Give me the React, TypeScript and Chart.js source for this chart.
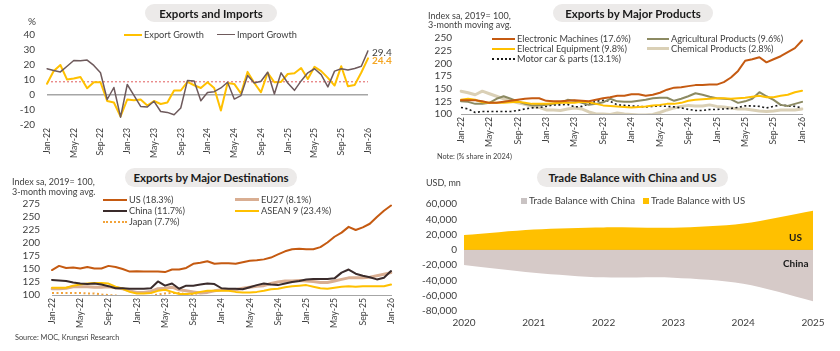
import React, { useEffect, useRef } from 'react';
import { Chart, registerables } from 'chart.js';
Chart.register(...registerables);

const FONT = 'Lato, "Open Sans", sans-serif';
const TXT = '#404040';

// ---------- DATA ----------
const MONTH_NAMES = ['Jan', 'Feb', 'Mar', 'Apr', 'May', 'Jun', 'Jul', 'Aug', 'Sep', 'Oct', 'Nov', 'Dec'];
const YEARS_SHORT = ['22', '23', '24', '25', '26'];
const MONTHS: string[] = [];
YEARS_SHORT.forEach((y) => MONTH_NAMES.forEach((m) => { if (MONTHS.length < 49) MONTHS.push(`${m}-${y}`); }));

const exportGrowth = [7.5, 16, 20, 10.3, 11, 12, 4.5, 8.5, 8.5, -4, -5, -14.3, -3, -3.5, -3, -7, -4, -6, -5, 3, 3, 8.7, 6.5, 4.7, 8.5, 4.7, -10.3, 8, 7.4, 1, 15.4, 8, 1.8, 14.8, 8.5, 8.7, 14, 14.5, 18, 10.7, 18.8, 15.9, 11.4, 6.3, 19.2, 5.8, 6.7, 15, 24.4];
const importGrowth = [17.5, 16.3, 15.4, 19.2, 23, 22.8, 23.3, 19.7, 14.8, -3, 5, -14.8, 7, -0.2, -7.6, -8, -4.2, -11, -11.6, -13.2, -8.7, 9.6, 9.4, -3.8, 1.6, 2.2, 4.7, 8.5, -2.7, -0.4, 13, 8, 9.2, 15.2, 0.7, 14.8, 8, 3.1, 9.4, 14.8, 17.5, 13.6, 5.4, 15.9, 17.5, 16.6, 17.7, 19.2, 29.4];
const avgGrowth = 8.8;

const electronicMachines = [127, 127, 127, 125, 122, 122, 124, 126, 128, 130, 131, 131, 126, 125, 125, 126, 127, 126, 125, 128, 131, 133, 136, 136, 139, 139, 136, 138, 142, 148, 152, 153, 155, 157, 157, 158, 158, 163, 172, 185, 205, 208, 212, 202, 208, 214, 222, 230, 245];
const agriculturalProducts = [125, 124, 120, 120, 122, 130, 135, 130, 125, 120, 117, 118, 118, 120, 122, 128, 126, 122, 118, 120, 123, 130, 125, 124, 124, 126, 128, 131, 132, 132, 126, 130, 135, 141, 138, 134, 131, 130, 129, 122, 125, 130, 143, 135, 128, 118, 116, 120, 124];
const electricalEquipment = [128, 130, 128, 123, 122, 122, 122, 123, 124, 122, 120, 120, 120, 121, 122, 122, 122, 124, 123, 120, 117, 116, 115, 114, 113, 114, 115, 117, 118, 120, 120, 122, 126, 128, 129, 130, 131, 131, 130, 131, 132, 134, 136, 133, 133, 136, 138, 143, 146];
const chemicalProducts = [145, 142, 138, 145, 140, 135, 130, 126, 122, 119, 115, 113, 108, 108, 107, 110, 112, 110, 104, 100, 100, 99, 102, 100, 99, 98, 98, 99, 103, 108, 112, 115, 117, 116, 116, 118, 115, 114, 112, 110, 110, 108, 106, 105, 106, 108, 108, 108, 110];
const motorCarParts = [113, 110, 103, 105, 105, 105, 105, 105, 107, 110, 112, 113, 115, 118, 118, 119, 114, 115, 120, 125, 127, 125, 118, 117, 116, 115, 114, 115, 116, 115, 114, 112, 109, 107, 107, 109, 109, 110, 111, 113, 116, 116, 115, 112, 115, 118, 116, 115, 112];

const destUS = [148, 156, 152, 153, 151, 154, 151, 151, 156, 154, 150, 145, 145.5, 145, 145, 145, 144, 149, 149, 152, 160, 162, 165, 160, 161, 161, 160, 163, 166, 167, 168.5, 172, 178, 184, 188, 189, 188, 188, 192, 201, 212, 220, 231, 225, 230, 237, 250, 262, 272];
const destChina = [129, 128, 127, 124, 122, 121, 122, 120, 117, 113, 113, 112, 112, 112, 113, 126, 118, 122, 112, 118, 118, 120, 122, 121, 113, 112, 112, 111, 115, 119, 122, 120, 119, 122, 125, 127, 130, 131, 131, 131, 132, 143, 149, 141, 137, 134, 130, 133, 146];
const destEU27 = [112, 112, 113, 116, 116, 116, 115, 115, 116, 114, 112, 108, 105, 105, 107, 112, 113, 115, 110, 108, 106, 104, 105, 108, 110, 110, 110, 113, 115, 117, 118, 122, 125, 127, 127, 128, 127, 126, 124, 124, 127, 130, 133, 133, 133, 134, 137, 140, 143];
const destASEAN9 = [114, 114, 114, 118, 120, 122, 123, 123, 122, 116, 112, 106, 103, 103, 104, 108, 110, 106, 102, 102, 103, 106, 108, 108, 108, 108, 106, 105, 105, 106, 108, 111, 112, 115, 117, 118, 119, 116, 113, 112, 114, 116, 117, 116, 117, 117, 117, 117, 120];
const destJapan = [104, 104, 104, 104, 104, 103, 103, 101, 100, 99, 97, 96, 96, 97, 98, 101, 103, 104, 104, 101, 100, 98, 97, 96, 95, 95, 94, 94, 94, 95, 95, 96, 96, 96, 96, 95, 95, 94, 94, 94, 95, 95, 95, 94, 94, 94, 94, 94, 95];

const tradeYears = ['2020', '2021', '2022', '2023', '2024', '2025'];
const balanceUS = [19300, 26700, 29400, 29000, 34600, 51300];
const balanceChina = [-19700, -29800, -36000, -36400, -44300, -67100];

// ---------- helpers ----------
type Area = { left: number; right: number; top: number; bottom: number };

function line(label: string, data: number[], color: string, width: number, dash: number[] = []) {
  return {
    label, data, borderColor: color, backgroundColor: color, borderWidth: width,
    pointRadius: 0, borderDash: dash, borderCapStyle: dash.length ? 'butt' : 'round', borderJoinStyle: 'round',
    tension: 0, fill: false,
  };
}

function baseOptions(w: number, h: number, area: Area, y: any, x: any) {
  return {
    responsive: false,
    animation: false,
    events: [],
    layout: { padding: { left: 0, top: area.top, right: w - area.right, bottom: 0 } },
    plugins: { legend: { display: false }, tooltip: { enabled: false }, title: { display: false } },
    scales: {
      x: {
        ...x,
        afterFit: (s: any) => { s.height = h - area.bottom; },
      },
      y: {
        ...y,
        afterFit: (s: any) => { s.width = area.left; },
      },
    },
  };
}

const monthX = (pad: number, border: boolean) => ({
  type: 'category',
  grid: { display: false, drawTicks: false },
  border: { display: border, color: '#a6a6a6', width: 1 },
  ticks: {
    autoSkip: false, maxRotation: 90, minRotation: 90, padding: pad, color: TXT,
    font: { family: FONT, size: 8.7 },
    callback: (_v: any, i: number) => (i % 4 === 0 ? MONTHS[i] : ''),
  },
});

const valueY = (min: number, max: number, step: number, pad: number, zeroColor?: string, fmt?: (v: number) => string) => ({
  min, max,
  grid: {
    display: !!zeroColor, drawTicks: false,
    color: (c: any) => (zeroColor && c.tick && c.tick.value === 0 ? zeroColor : 'rgba(0,0,0,0)'),
    lineWidth: (c: any) => (c.tick && c.tick.value === 0 ? 1.5 : 1),
  },
  border: { display: false },
  ticks: {
    autoSkip: false,
    stepSize: step, padding: pad, color: TXT, font: { family: FONT, size: 10 },
    callback: (v: number) => (fmt ? fmt(v) : String(v)),
  },
});

// ---------- UI bits ----------
const Txt = ({ x, y, children, size = 9.2, weight = 400, color = TXT }: any) => (
  <div style={{ position: 'absolute', left: x, top: y - 7, height: 14, lineHeight: '14px', fontSize: size, fontWeight: weight, color, whiteSpace: 'nowrap', fontFamily: FONT }}>{children}</div>
);

const Pill = ({ x, y, w, h, children }: any) => (
  <div style={{ position: 'absolute', left: x, top: y, width: w, height: h, borderRadius: h / 2, background: '#ECEAE9', display: 'flex', alignItems: 'center', justifyContent: 'center', fontFamily: FONT, fontWeight: 700, fontSize: 11.5, color: '#1a1a1a', whiteSpace: 'nowrap' }}>{children}</div>
);

const LineKey = ({ x, y, w, color, width = 2, style = 'solid', label }: any) => (
  <>
    <div style={{ position: 'absolute', left: x, top: y - width / 2, width: w, height: 0, borderTop: `${width}px ${style} ${color}` }} />
    <Txt x={x + w + 2} y={y}>{label}</Txt>
  </>
);

const BoxKey = ({ x, y, color, label }: any) => (
  <>
    <div style={{ position: 'absolute', left: x, top: y - 3, width: 6, height: 6, background: color }} />
    <Txt x={x + 8} y={y} size={9.6}>{label}</Txt>
  </>
);

export default function App() {
  const r1 = useRef<HTMLCanvasElement>(null);
  const r2 = useRef<HTMLCanvasElement>(null);
  const r3 = useRef<HTMLCanvasElement>(null);
  const r4 = useRef<HTMLCanvasElement>(null);

  useEffect(() => {
    Chart.defaults.font.family = FONT;
    const charts: Chart[] = [];

    // Panel 1: Exports and Imports
    charts.push(new Chart(r1.current!, {
      type: 'line',
      data: {
        labels: MONTHS,
        datasets: [
          line('Import Growth', importGrowth, '#6E5A5C', 1.5),
          line('Export Growth', exportGrowth, '#FFC000', 2),
          line('Average', MONTHS.map(() => avgGrowth), '#E05A5A', 1, [2, 2]),
        ] as any,
      },
      options: baseOptions(420, 170, { left: 47, right: 368, top: 35, bottom: 125 },
        valueY(-20, 40, 10, 12, '#a6a6a6'), monthX(3, false)) as any,
    }));

    // Panel 2: Exports by Major Products
    charts.push(new Chart(r2.current!, {
      type: 'line',
      data: {
        labels: MONTHS,
        datasets: [
          line('Electronic Machines (17.6%)', electronicMachines, '#C55A11', 2),
          line('Electrical Equipment (9.8%)', electricalEquipment, '#FFC000', 2),
          line('Agricultural Products (9.6%)', agriculturalProducts, '#8C8A62', 2),
          line('Motor car & parts (13.1%)', motorCarParts, '#1a1a1a', 1.6, [2, 2.5]),
          line('Chemical Products (2.8%)', chemicalProducts, '#DAD0B6', 3),
        ] as any,
      },
      options: baseOptions(420, 170, { left: 41, right: 382, top: 38, bottom: 114 },
        valueY(100, 250, 25, 9), monthX(3, true)) as any,
    }));

    // Panel 3: Exports by Major Destinations
    charts.push(new Chart(r3.current!, {
      type: 'line',
      data: {
        labels: MONTHS,
        datasets: [
          line('US (18.3%)', destUS, '#C55A11', 2),
          line('China (11.7%)', destChina, '#3A2B2B', 2),
          line('ASEAN 9 (23.4%)', destASEAN9, '#FFC000', 2),
          line('Japan (7.7%)', destJapan, '#F2A33A', 2, [2, 2.5]),
          line('EU27 (8.1%)', destEU27, '#D9AE92', 3),
        ] as any,
      },
      options: baseOptions(420, 165, { left: 52, right: 391, top: 39, bottom: 130 },
        valueY(100, 275, 25, 12), monthX(3, true)) as any,
    }));

    // Panel 4: Trade Balance with China and US
    charts.push(new Chart(r4.current!, {
      type: 'line',
      data: {
        labels: tradeYears,
        datasets: [
          { label: 'Trade Balance with US', data: balanceUS, borderWidth: 0, borderColor: '#FFC000', backgroundColor: '#FFC000', fill: 'origin', pointRadius: 0, tension: 0.3 },
          { label: 'Trade Balance with China', data: balanceChina, borderWidth: 0, borderColor: '#D6CAC8', backgroundColor: '#D6CAC8', fill: 'origin', pointRadius: 0, tension: 0.3 },
        ] as any,
      },
      options: baseOptions(420, 180, { left: 44, right: 393, top: 39, bottom: 146 },
        valueY(-80000, 60000, 20000, 7, '#C9A23A', (v) => v.toLocaleString('en-US')),
        {
          type: 'category',
          grid: { display: false, drawTicks: false },
          border: { display: false },
          ticks: { padding: 6, color: TXT, font: { family: FONT, size: 10 }, maxRotation: 0 },
        }) as any,
    }));

    return () => charts.forEach((c) => c.destroy());
  }, []);

  return (
    <div style={{ position: 'absolute', left: 0, top: 0, width: 840, height: 351, background: '#fff', fontFamily: FONT, overflow: 'hidden' }}>
      <canvas ref={r1} width={420} height={170} style={{ position: 'absolute', left: 0, top: 0 }} />
      <canvas ref={r2} width={420} height={170} style={{ position: 'absolute', left: 420, top: 0 }} />
      <canvas ref={r3} width={420} height={165} style={{ position: 'absolute', left: 0, top: 165 }} />
      <canvas ref={r4} width={420} height={180} style={{ position: 'absolute', left: 420, top: 165 }} />

      {/* Panel 1 */}
      <Pill x={145} y={4} w={132} h={18}>Exports and Imports</Pill>
      <Txt x={28} y={21} size={10}>%</Txt>
      <LineKey x={124} y={35} w={18} color="#FFC000" label="Export Growth" />
      <LineKey x={217} y={35} w={18} color="#6E5A5C" width={1.5} label="Import Growth" />
      <Txt x={372} y={52} size={10}>29.4</Txt>
      <Txt x={372} y={60} size={10} weight={700} color="#F5A623">24.4</Txt>

      {/* Panel 2 */}
      <Pill x={553} y={4} w={160} h={18}>Exports by Major Products</Pill>
      <Txt x={428} y={16} size={9}>Index sa, 2019= 100,</Txt>
      <Txt x={428} y={25} size={9}>3-month moving avg.</Txt>
      <LineKey x={492} y={38.5} w={23} color="#C55A11" label="Electronic Machines (17.6%)" />
      <LineKey x={647} y={38.5} w={22} color="#8C8A62" label="Agricultural Products (9.6%)" />
      <LineKey x={492} y={48.7} w={23} color="#FFC000" label="Electrical Equipment (9.8%)" />
      <LineKey x={647} y={48.7} w={22} color="#DAD0B6" width={3} label="Chemical Products (2.8%)" />
      <LineKey x={492} y={59} w={23} color="#1a1a1a" style="dotted" label="Motor car & parts (13.1%)" />
      <Txt x={437} y={157} size={7.3}>Note: (% share in 2024)</Txt>

      {/* Panel 3 */}
      <Pill x={125} y={168} w={172} h={19}>Exports by Major Destinations</Pill>
      <Txt x={12} y={181.5} size={9}>Index sa, 2019= 100,</Txt>
      <Txt x={12} y={191.5} size={9}>3-month moving avg.</Txt>
      <LineKey x={103} y={199.5} w={24} color="#C55A11" label="US (18.3%)" />
      <LineKey x={235} y={199.5} w={24} color="#D9AE92" width={3} label="EU27 (8.1%)" />
      <LineKey x={103} y={210.5} w={24} color="#3A2B2B" label="China (11.7%)" />
      <LineKey x={235} y={210.5} w={24} color="#FFC000" label="ASEAN 9 (23.4%)" />
      <LineKey x={103} y={221.7} w={24} color="#F2A33A" style="dotted" label="Japan (7.7%)" />
      <Txt x={15} y={338} size={7.3}>Source: MOC, Krungsri Research</Txt>

      {/* Panel 4 */}
      <Pill x={537} y={168} w={191} h={19}>Trade Balance with China and US</Pill>
      <Txt x={426} y={182.5} size={9}>USD, mn</Txt>
      <BoxKey x={521} y={200.5} color="#C9C3C3" label="Trade Balance with China" />
      <BoxKey x={643} y={200.5} color="#FFC000" label="Trade Balance with US" />
      <Txt x={789} y={236.5} size={10} weight={700} color="#1a1a1a">US</Txt>
      <Txt x={783} y={262.5} size={10} weight={700} color="#1a1a1a">China</Txt>
    </div>
  );
}
